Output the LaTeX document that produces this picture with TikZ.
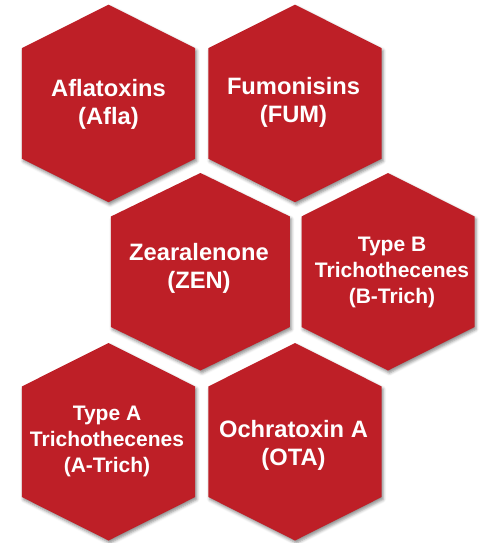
\documentclass[tikz,border=0pt]{standalone}
\usepackage{fontspec}
\setmainfont{Liberation Sans}
\usetikzlibrary{shadows.blur}
\definecolor{hexred}{RGB}{190,31,39}
\tikzset{
  hexfill/.style={fill=hexred, blur shadow={shadow xshift=1.5pt, shadow yshift=-2.5pt, shadow blur radius=3pt, shadow opacity=45}},
  bigtxt/.style={text=white, align=center, inner sep=0pt, font=\bfseries\fontsize{23.7}{28.2}\selectfont},
  smalltxt/.style={text=white, align=center, inner sep=0pt, font=\bfseries\fontsize{21}{25.7}\selectfont}
}
% #1 centre x, #2 top y, #3 half width
\newcommand\hexcell[3]{%
  \path[hexfill] (#1,#2) -- (#1+#3,#2+43.5) -- (#1+#3,#2+154) -- (#1,#2+197.5)
    -- (#1-#3,#2+154) -- (#1-#3,#2+43.5) -- cycle;}
\begin{document}
\begin{tikzpicture}[x=1pt,y=-1pt]
\useasboundingbox (0,0) rectangle (487,543);
\hexcell{108.5}{4.7}{86.7}
\hexcell{295}{4.7}{86.7}
\hexcell{200.4}{173}{89.5}
\hexcell{388}{173}{86.5}
\hexcell{108.5}{343}{86.7}
\hexcell{295}{343}{86.7}
\node[bigtxt] (afla) at (108.5,104) {Aflatoxins\\(Afla)};
\node[bigtxt] (fum) at (293.5,102) {Fumonisins\\(FUM)};
\node[bigtxt] (zen) at (199,268.5) {Zearalenone\\(ZEN)};
\node[smalltxt] (btrich) at (392,272.5) {Type B\\Trichothecenes\\(B-Trich)};
\node[smalltxt] (atrich) at (107,441.5) {Type A\\Trichothecenes\\(A-Trich)};
\node[bigtxt] (ota) at (293.5,445.5) {Ochratoxin A\\(OTA)};
\end{tikzpicture}
\end{document}
